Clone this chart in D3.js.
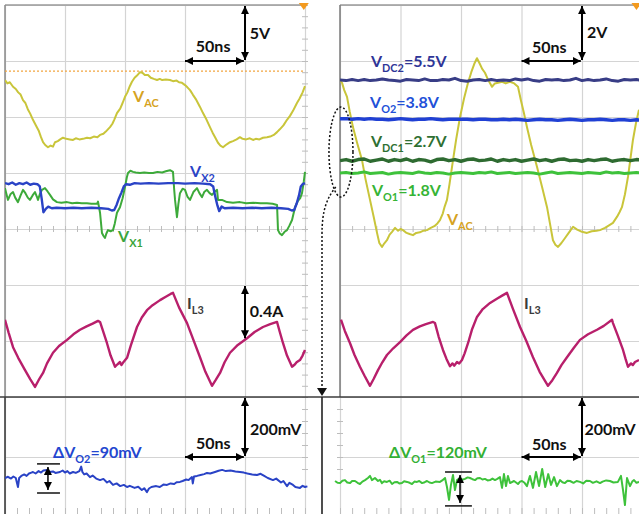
<!DOCTYPE html>
<html>
<head>
<meta charset="utf-8">
<script src="https://d3js.org/d3.v7.min.js"></script>
<style>
  body { margin: 0; background: #fff; }
  text { font-family: Lato, "Open Sans", sans-serif; font-weight: 700; }
  .grid line { stroke: #d4d4d4; stroke-width: 1.2; }
  .minor line { stroke: #bdbdbd; stroke-width: 1; }
  .grid .domain, .minor .domain { display: none; }
</style>
</head>
<body>
<svg id="chart" width="639" height="514"></svg>
<script>
// ---- data: time in ns, top panels in divisions, bottom panels in mV ----
var vacLeft = [[0,5.66],[2,5.60],[4,5.62],[6.7,5.54],[9,5.50],[11,5.44],[13,5.40],[15,5.30],[17,5.25],[19,5.14],[21,5.06],[23.3,4.95],[26,4.84],[28,4.76],[30,4.64],[31.7,4.55],[33.5,4.50],[35.8,4.46],[38,4.49],[40,4.47],[41.7,4.55],[44,4.57],[46,4.60],[48.3,4.63],[51,4.61],[54,4.60],[56.7,4.59],[59,4.62],[62,4.60],[65,4.61],[68.3,4.63],[71,4.62],[74,4.65],[77,4.64],[79.2,4.68],[82,4.70],[84,4.74],[87.5,4.82],[89.5,4.88],[91,4.95],[93.3,5.07],[96,5.15],[98,5.25],[100,5.36],[102,5.44],[104,5.55],[105.8,5.63],[108,5.70],[110,5.74],[112.5,5.80],[114.5,5.79],[116.5,5.75],[119.2,5.75],[121.5,5.70],[124,5.68],[126.7,5.66],[129,5.68],[131,5.66],[134,5.67],[137.5,5.66],[140,5.64],[143,5.65],[145,5.62],[147.5,5.61],[150,5.57],[152,5.53],[154.2,5.48],[156.5,5.40],[159,5.32],[162.5,5.18],[165,5.07],[168,4.95],[170.8,4.82],[173,4.72],[175.5,4.62],[177.5,4.54],[179.5,4.49],[181.7,4.46],[184,4.50],[186,4.53],[187.5,4.55],[190,4.57],[193,4.60],[195.8,4.64],[198,4.61],[201,4.60],[204,4.62],[206.7,4.59],[209,4.61],[212,4.60],[215,4.63],[218.3,4.64],[221,4.65],[224,4.68],[226.7,4.73],[229,4.78],[232,4.85],[235,4.95],[237.5,5.02],[240,5.11],[243.3,5.25],[245.5,5.33],[248,5.44],[250,5.55]];

var vx2 = [[0,3.82],[3,3.80],[6,3.83],[9,3.79],[12,3.82],[15,3.80],[18,3.83],[21,3.79],[24,3.81],[27,3.80],[29,3.76],[30.5,3.55],[32,3.30],[34,3.36],[36,3.40],[39,3.37],[43,3.38],[50,3.37],[57,3.38],[64,3.37],[72,3.38],[80,3.37],[86,3.36],[89,3.33],[91,3.34],[93,3.43],[95,3.55],[97,3.65],[99,3.76],[101,3.80],[104,3.79],[108,3.82],[113,3.81],[120,3.82],[128,3.81],[136,3.82],[144,3.82],[150,3.81],[158,3.82],[165,3.81],[171,3.80],[173.5,3.76],[175,3.60],[177,3.42],[178.5,3.32],[180.5,3.40],[183,3.37],[190,3.38],[198,3.37],[206,3.38],[214,3.37],[222,3.38],[230,3.37],[236,3.36],[239,3.33],[241,3.34],[243,3.45],[245,3.60],[246.5,3.76],[248,3.80],[250,3.82]];

var vx1 = [[0,3.73],[1.5,3.60],[2.5,3.52],[4.5,3.62],[6.7,3.66],[8.5,3.56],[10.8,3.48],[13,3.60],[15,3.70],[17,3.64],[19,3.56],[20.8,3.52],[23,3.60],[25,3.66],[26.5,3.58],[27.5,3.52],[29,3.62],[30.8,3.70],[33.3,3.73],[35.5,3.67],[37.5,3.61],[40,3.53],[43.3,3.48],[47,3.47],[51.7,3.48],[56,3.46],[60,3.47],[64,3.46],[68.3,3.46],[72,3.45],[76.7,3.45],[77.5,3.49],[79.2,3.29],[80.8,2.93],[82,2.88],[83.3,2.84],[84.5,2.92],[85.8,2.98],[88,2.96],[90,2.98],[91.5,3.10],[93.3,3.29],[95.8,3.39],[98,3.55],[100,3.75],[101.5,3.92],[102.5,4.00],[104.5,4.04],[106.7,4.02],[109,4.01],[112.5,4.00],[116,4.01],[120,4.00],[123.3,4.00],[127,4.02],[131,4.01],[134,4.03],[137.5,4.05],[140,4.02],[141,3.70],[141.7,3.52],[143.3,3.21],[144.5,3.45],[145.8,3.64],[148,3.72],[150,3.70],[152,3.58],[154.2,3.52],[157,3.66],[160,3.73],[162,3.64],[164.2,3.57],[166,3.66],[168.3,3.70],[170.5,3.64],[172.5,3.61],[174.5,3.66],[176.7,3.70],[177.5,3.52],[180.8,3.52],[185,3.48],[190,3.47],[195.8,3.48],[201,3.46],[207,3.47],[213,3.46],[218.3,3.46],[223,3.45],[226.7,3.43],[227.5,2.98],[229,2.92],[230.8,2.89],[233,2.95],[235,2.98],[237,3.06],[239.2,3.16],[241.7,3.39],[244,3.50],[246,3.55],[247.5,3.64],[249,3.85],[250,4.02]];

var il3Left = [[0,1.38],[3,1.15],[6.7,0.89],[11,0.70],[16.7,0.48],[21,0.32],[25,0.18],[28,0.30],[31.7,0.43],[35,0.60],[40,0.79],[45,0.91],[51.7,1.02],[57,1.12],[62.5,1.20],[68,1.26],[73,1.31],[77.5,1.36],[79.2,1.34],[82,1.16],[85,0.96],[88,0.74],[91.7,0.54],[93.5,0.58],[95.8,0.625],[97,0.57],[98.3,0.61],[101.7,0.70],[105,0.93],[110,1.25],[114,1.42],[118.3,1.55],[123,1.64],[129.2,1.73],[134,1.79],[138,1.84],[140,1.86],[145,1.60],[151.7,1.32],[157,1.02],[162.5,0.71],[167,0.45],[172.5,0.20],[175.5,0.30],[179.2,0.43],[183,0.62],[187.5,0.79],[194,0.93],[201.7,1.05],[208,1.16],[215,1.25],[221,1.30],[226.7,1.34],[229,1.16],[231.7,0.96],[235,0.74],[239.2,0.54],[241.5,0.58],[243,0.62],[245.8,0.66],[248,0.74],[250,0.84]];

var vacRight = [[0,5.66],[1.7,5.61],[3.5,5.48],[5.8,5.36],[8,5.10],[10.7,4.82],[14,4.55],[18.2,4.23],[21,3.90],[24.8,3.52],[28,3.20],[30.6,2.93],[32.5,2.75],[34.7,2.68],[36.5,2.74],[38.8,2.80],[41,2.90],[43,2.95],[45.5,3.02],[48,2.97],[50,3.00],[52.1,2.98],[55,2.93],[57.5,2.91],[60.3,2.89],[63,2.93],[66,2.94],[69,2.97],[71.9,2.98],[75,3.02],[78,3.05],[80.5,3.10],[82.6,3.16],[85,3.28],[86.5,3.40],[88.4,3.52],[90.5,3.80],[93.4,4.23],[96,4.60],[99.2,5.00],[102.5,5.33],[105.8,5.61],[108.5,5.80],[111,5.95],[113.2,6.05],[115.5,5.95],[117.5,5.86],[119.8,5.79],[122.5,5.66],[125.6,5.54],[128,5.60],[130.6,5.61],[134,5.63],[137,5.60],[140.5,5.63],[144,5.60],[147.1,5.54],[149.5,5.30],[152,5.07],[154.5,4.82],[158,4.50],[162.8,4.11],[167,3.75],[171.1,3.39],[173.5,3.10],[176,2.80],[178,2.72],[180.2,2.68],[183,2.75],[186,2.84],[189,2.93],[192.6,3.04],[196,2.99],[200,2.95],[204.1,2.93],[208,2.96],[212,2.97],[214.9,2.98],[219,3.02],[222,3.06],[225.6,3.11],[229,3.22],[231,3.30],[233,3.39],[235.5,3.62],[238,3.93],[240,4.25],[242.1,4.59],[244.5,4.88],[247.1,5.13]];

var il3Right = [[0.8,1.38],[4,1.18],[8.3,0.96],[12,0.75],[16.5,0.54],[20.5,0.37],[24.8,0.20],[28,0.33],[31.4,0.48],[35,0.62],[38.8,0.75],[44,0.87],[49.6,0.98],[55,1.10],[60.3,1.20],[66,1.26],[71,1.30],[76.9,1.34],[78.5,1.32],[81.5,1.08],[85.1,0.84],[88,0.68],[90.9,0.55],[93,0.60],[94.5,0.56],[96.7,0.625],[98.5,0.60],[100.8,0.66],[103,0.78],[105.8,0.96],[109,1.20],[113.2,1.43],[118,1.57],[124,1.68],[130,1.76],[134,1.81],[138,1.86],[143,1.57],[148.8,1.25],[154,1.00],[159.5,0.71],[165,0.45],[171.9,0.20],[175.5,0.30],[179.3,0.43],[183,0.57],[187.6,0.71],[193,0.87],[198.3,1.02],[205,1.12],[212.4,1.20],[218,1.27],[224.8,1.38],[225.6,1.32],[229.5,1.10],[233.9,0.84],[236,0.68],[238,0.54],[240.5,0.60],[242,0.57],[243.8,0.625],[247.1,0.66]];

// DC levels, one sample every 5 ns
var dcStep = 5;
var vdc2 = [5.66,5.65,5.67,5.65,5.67,5.65,5.66,5.68,5.66,5.65,5.64,5.67,5.66,5.65,5.68,5.65,5.65,5.67,5.66,5.69,5.65,5.64,5.66,5.67,5.65,5.67,5.65,5.66,5.65,5.68,5.66,5.68,5.65,5.64,5.67,5.66,5.67,5.65,5.66,5.69,5.65,5.67,5.65,5.66,5.68,5.65,5.64,5.67,5.66,5.67,5.65];
var vo2 = [4.97,4.97,4.96,4.97,4.96,4.97,4.96,4.96,4.95,4.96,4.97,4.96,4.95,4.96,4.96,4.97,4.96,4.95,4.96,4.96,4.96,4.96,4.95,4.96,4.96,4.95,4.95,4.96,4.95,4.96,4.95,4.94,4.95,4.96,4.95,4.95,4.94,4.95,4.96,4.95,4.94,4.95,4.95,4.96,4.95,4.94,4.95,4.95,4.94,4.95,4.94];
var vdc1 = [4.22,4.24,4.21,4.24,4.25,4.21,4.23,4.25,4.21,4.24,4.22,4.25,4.21,4.24,4.23,4.20,4.24,4.25,4.22,4.24,4.21,4.24,4.25,4.22,4.23,4.25,4.21,4.24,4.22,4.24,4.21,4.23,4.25,4.22,4.24,4.21,4.24,4.25,4.22,4.23,4.21,4.24,4.22,4.24,4.25,4.21,4.23,4.24,4.22,4.24,4.23];
var vo1 = [4.00,4.01,3.99,4.00,4.02,3.99,4.00,4.01,3.98,4.00,4.01,4.00,3.99,4.02,4.00,3.99,4.01,4.00,3.98,4.00,4.01,4.00,3.99,4.01,4.00,4.02,3.99,4.00,4.01,3.99,4.00,4.01,4.00,3.98,4.00,4.02,3.99,4.00,4.01,4.00,3.99,4.01,4.00,3.99,4.02,4.00,4.01,3.99,4.00,4.01,4.00];

// ripple, mV
var dvo2 = [[0,-70],[2.5,-66],[5,-72],[7,-65],[9,-70],[10.8,-100],[11.8,-70],[14,-62],[16,-58],[18,-63],[20,-55],[22,-52],[23.3,-50],[25.5,-55],[28,-47],[30,-52],[32,-45],[35,-43],[37,-50],[40,-48],[42,-53],[45.8,-50],[48,-45],[50,-52],[52,-47],[54,-55],[56.7,-50],[59,-53],[62,-47],[63.5,-32],[64.5,-50],[66,-58],[68,-55],[70.8,-67],[73,-62],[76,-72],[79.2,-77],[82,-73],[85,-85],[87,-80],[90,-93],[93,-88],[96,-97],[99,-93],[101.7,-100],[104,-96],[108,-103],[111,-99],[114,-110],[116,-104],[118.3,-117],[120,-105],[122,-100],[126,-97],[129,-100],[132,-92],[135,-93],[138,-88],[141,-90],[143,-84],[145.8,-83],[148,-80],[151,-75],[153,-77],[155.8,-67],[156.5,-88],[157.5,-65],[160,-63],[163,-60],[166,-57],[168.3,-53],[171,-55],[175,-50],[178,-46],[181,-43],[184,-47],[188,-45],[192,-48],[195.8,-50],[199,-52],[202,-55],[206,-58],[210,-60],[213,-56],[216,-63],[219,-70],[223.3,-77],[226,-72],[230,-85],[232,-80],[235,-97],[237,-86],[240,-93],[242,-100],[245.8,-103],[248,-96],[250,-100],[252,-98]];

var dvo1 = [[-4.1,-80],[-2,-86],[0,-87],[2,-79],[4.1,-77],[6,-85],[8.3,-87],[10,-80],[12.4,-80],[14.5,-86],[16.5,-90],[18.5,-82],[20.7,-77],[23.1,-70],[24.8,-63],[26.4,-77],[28.9,-70],[31.4,-80],[33,-76],[34.7,-87],[36.5,-81],[38.8,-83],[41,-79],[43,-90],[45,-84],[47.1,-83],[49,-88],[51.2,-87],[53,-81],[55.4,-83],[57.5,-86],[59.5,-90],[61.5,-82],[63.6,-83],[65.5,-80],[67.8,-87],[70,-84],[71.9,-80],[74,-85],[76,-87],[79,-82],[82.6,-83],[84.5,-78],[86.8,-70],[88.4,-100],[90.1,-143],[91.7,-93],[93.4,-60],[95,-110],[96.7,-77],[99.2,-70],[101,-76],[103.3,-73],[105.5,-68],[107.4,-70],[109.5,-74],[111.6,-77],[113.5,-71],[115.7,-70],[117.7,-75],[119.8,-73],[122,-78],[124,-77],[126,-72],[128.1,-77],[130,-73],[132.2,-67],[133.9,-103],[135.5,-57],[137.2,-97],[138.8,-63],[140.5,-87],[143.8,-80],[145.5,-85],[147.1,-90],[148.8,-82],[150.4,-80],[152.5,-86],[154.5,-97],[157,-63],[159.5,-103],[162,-50],[164.5,-97],[167.1,-40],[169.6,-100],[172.1,-57],[174.4,-93],[176.9,-67],[179.3,-97],[181.8,-77],[183.8,-84],[185.9,-87],[188,-79],[190.1,-80],[193,-86],[195.5,-80],[198.3,-83],[201,-88],[203.5,-79],[206.6,-80],[209,-86],[212,-81],[214.9,-87],[217,-82],[220,-78],[223.1,-80],[226,-85],[229.7,-83],[232.2,-63],[233.9,-110],[235.5,-160],[237.2,-70],[239.7,-97],[241.5,-82],[243,-77],[245,-86],[247.1,-83],[249,-80]];

var timeTicks = [0, 50, 100, 150, 200, 250];
var divTicks = [0, 1, 2, 3, 4, 5, 6, 7];

// ---- scales ----
var svg = d3.select("#chart");
var xL = d3.scaleLinear().domain([0, 250]).range([5, 305]);
var xR = d3.scaleLinear().domain([0, 250]).range([340, 642.5]);
var yT = d3.scaleLinear().domain([0, 7]).range([397, 5]);
var yB = d3.scaleLinear().domain([-200, 200]).range([517, 397]);

var defs = svg.append("defs");
function clip(id, x0, y0, x1, y1) {
  defs.append("clipPath").attr("id", id).append("rect")
    .attr("x", x0).attr("y", y0).attr("width", x1 - x0).attr("height", y1 - y0);
}
clip("cTL", 5, 5, 312, 397);
clip("cTR", 340, 5, 639, 397);
clip("cBL", 5, 397, 321, 514);
clip("cBR", 323, 397, 639, 514);

defs.append("marker").attr("id", "ah")
  .attr("viewBox", "0 0 10 10").attr("refX", 10).attr("refY", 5)
  .attr("markerWidth", 8).attr("markerHeight", 8).attr("markerUnits", "userSpaceOnUse")
  .attr("orient", "auto-start-reverse")
  .append("path").attr("d", "M0,0L10,5L0,10z").attr("fill", "#000");

// ---- grids ----
function grid(x, y, tv, dv, top, bottom, left, right) {
  svg.append("g").attr("class", "grid")
    .attr("transform", "translate(0," + bottom + ")")
    .call(d3.axisBottom(x).tickValues(tv).tickSize(-(bottom - top)).tickFormat(""));
  svg.append("g").attr("class", "grid")
    .attr("transform", "translate(" + left + ",0)")
    .call(d3.axisLeft(y).tickValues(dv).tickSize(-(right - left)).tickFormat(""));
}
grid(xL, yT, timeTicks, divTicks, 5, 397, 5, 305);
grid(xR, yT, [0, 50, 100, 150, 200], divTicks, 5, 397, 340, 639);
grid(xL, yB, timeTicks, [0], 397, 514, 5, 305);
grid(xR, yB, [0, 50, 100, 150, 200], [0], 397, 514, 341, 639);

// minor ticks on the centre axes
var tMinor = d3.range(0, 251, 10);
function hTicks(x, yPos, vals) {
  svg.append("g").attr("class", "minor").attr("transform", "translate(0," + (yPos - 3) + ")")
    .call(d3.axisBottom(x).tickValues(vals).tickSize(6).tickFormat(""));
}
function vTicks(y, xPos, vals) {
  svg.append("g").attr("class", "minor").attr("transform", "translate(" + (xPos + 3) + ",0)")
    .call(d3.axisLeft(y).tickValues(vals).tickSize(6).tickFormat(""));
}
hTicks(xL, yT(3), tMinor);
hTicks(xR, yT(3), d3.range(0, 250, 10));
vTicks(yT, xL(250), d3.range(0, 7.01, 0.2));
hTicks(xL, 511, tMinor);
hTicks(xR, 511, d3.range(0, 250, 10));
vTicks(yB, xL(250), d3.range(-40, 200, 40));
vTicks(yB, xR(0), d3.range(-40, 200, 40));

// borders
function rule(x1, y1, x2, y2, c, w) {
  svg.append("line").attr("x1", x1).attr("y1", y1).attr("x2", x2).attr("y2", y2)
    .attr("stroke", c).attr("stroke-width", w);
}
rule(xL(0), yT(7), xL(250), yT(7), "#9a9a9a", 1.5);
rule(xL(0), yT(7), xL(0), yT(0), "#8a8a8a", 1.5);
rule(xR(0), yT(7), 639, yT(7), "#9a9a9a", 1.5);
rule(xR(0), yT(7), xR(0), yT(0), "#7a7a7a", 1.5);
rule(0, 397, 639, 397, "#3c3c3c", 1.6);
rule(xL(0), 397, xL(0), 514, "#3c3c3c", 1.6);
rule(322, 397, 322, 514, "#222", 1.6);

// trigger markers and trigger level
function trig(px) {
  svg.append("path").attr("d", "M" + (px - 5) + ",3L" + (px + 5) + ",3L" + px + ",10z").attr("fill", "#f39a1e");
}
trig(xL(249));
trig(xR(245));
svg.append("line").attr("x1", xL(0)).attr("x2", xL(250)).attr("y1", yT(5.82)).attr("y2", yT(5.82))
  .attr("stroke", "#f2a540").attr("stroke-width", 1.4).attr("stroke-dasharray", "2,2");

// ---- traces ----
function trace(data, x, y, color, w, clipId) {
  svg.append("path").datum(data)
    .attr("clip-path", "url(#" + clipId + ")")
    .attr("fill", "none").attr("stroke", color).attr("stroke-width", w)
    .attr("stroke-linejoin", "round")
    .attr("d", d3.line().x(function (d) { return x(d[0]); }).y(function (d) { return y(d[1]); }));
}
function dcTrace(vals, color, w) {
  trace(vals.map(function (v, i) { return [i * dcStep, v]; }), xR, yT, color, w, "cTR");
}

trace(vacLeft, xL, yT, "#c9c53a", 2, "cTL");
trace(vx1, xL, yT, "#3daa3a", 2, "cTL");
trace(vx2, xL, yT, "#2a43c6", 2.4, "cTL");
trace(il3Left, xL, yT, "#b81f6b", 2.4, "cTL");

trace(vacRight, xR, yT, "#c9c53a", 2, "cTR");
dcTrace(vdc2, "#383d86", 3);
dcTrace(vo2, "#2040d4", 3.4);
dcTrace(vdc1, "#2e6b31", 3.4);
dcTrace(vo1, "#3ec23b", 3);
trace(il3Right, xR, yT, "#b81f6b", 2.4, "cTR");

trace(dvo2, xL, yB, "#2a43c6", 2, "cBL");
trace(dvo1, xR, yB, "#3ec23b", 2, "cBR");

// ---- annotations ----
function arrow(x1, y1, x2, y2, w) {
  svg.append("line").attr("x1", x1).attr("y1", y1).attr("x2", x2).attr("y2", y2)
    .attr("stroke", "#000").attr("stroke-width", w || 2)
    .attr("marker-start", "url(#ah)").attr("marker-end", "url(#ah)");
}
function label(px, py, parts, color, size) {
  var t = svg.append("text").attr("x", px).attr("y", py).attr("fill", color);
  var sub = false;
  parts.forEach(function (p) {
    var s = !!p[1];
    t.append("tspan").text(p[0])
      .style("font-size", (s ? size * 0.68 : size) + "px")
      .attr("dy", s === sub ? 0 : (s ? size * 0.3 : -size * 0.3));
    sub = s;
  });
}

// top left scale
arrow(xL(150), yT(6), xL(199), yT(6));
arrow(xL(200), yT(6.98), xL(200), yT(6.02));
label(xL(159), yT(6.16), [["50ns"]], "#111", 16);
label(xL(204), yT(6.39), [["5V"]], "#111", 16);
arrow(xL(200), yT(1.98), xL(200), yT(1.05));
label(xL(204), yT(1.43), [["0.4A"]], "#111", 16);

label(xL(106.7), yT(5.27), [["V"], ["AC", 1]], "#d6a31f", 16);
label(xL(154.2), yT(3.93), [["V"], ["X2", 1]], "#2a43c6", 16);
label(xL(94.2), yT(2.77), [["V"], ["X1", 1]], "#3aa53a", 16);
label(xL(151.7), yT(1.57), [["I"], ["L3", 1]], "#3a3a3a", 16);

// top right
arrow(xR(150), yT(6), xR(199), yT(6));
arrow(xR(200), yT(6.98), xR(200), yT(6.02));
label(xR(158.7), yT(6.14), [["50ns"]], "#111", 16);
label(xR(204.1), yT(6.41), [["2V"]], "#111", 16);
label(xR(25.6), yT(5.89), [["V"], ["DC2", 1], ["=5.5V"]], "#2e3597", 16);
label(xR(24.8), yT(5.16), [["V"], ["O2", 1], ["=3.8V"]], "#2250d8", 16);
label(xR(25.6), yT(4.46), [["V"], ["DC1", 1], ["=2.7V"]], "#2e7032", 16);
label(xR(26.4), yT(3.59), [["V"], ["O1", 1], ["=1.8V"]], "#36b435", 16);
label(xR(88.4), yT(3.07), [["V"], ["AC", 1]], "#d6a31f", 16);
label(xR(152.1), yT(1.57), [["I"], ["L3", 1]], "#3a3a3a", 16);

// zoom ellipse and pointer
svg.append("ellipse").attr("cx", xR(0.8)).attr("cy", yT(4.375)).attr("rx", 12).attr("ry", 45)
  .attr("fill", "none").attr("stroke", "#111").attr("stroke-width", 1.5).attr("stroke-dasharray", "2,2");
svg.append("path")
  .attr("d", "M" + xR(-3.5) + "," + yT(3.75) + "C" + 327 + "," + yT(3.55) + " 322," + yT(3.35) + " 322," + yT(2.9) + "L322," + 389)
  .attr("fill", "none").attr("stroke", "#111").attr("stroke-width", 1.5).attr("stroke-dasharray", "2,2");
svg.append("path").attr("d", "M317,388L327,388L322,396z").attr("fill", "#111");

// bottom left
arrow(xL(150), yB(0), xL(199), yB(0));
arrow(xL(200), yB(197), xL(200), yB(3));
label(xL(159.2), yB(27), [["50ns"]], "#111", 16);
label(xL(204.2), yB(73), [["200mV"]], "#111", 16);
rule(xL(26.7), yB(-23), xL(45.8), yB(-23), "#111", 1.5);
rule(xL(26.7), yB(-120), xL(45.8), yB(-120), "#111", 1.5);
arrow(xL(35.8), yB(-33), xL(35.8), yB(-110), 1.5);
label(xL(40), yB(-3), [["ΔV"], ["O2", 1], ["=90mV"]], "#2346cf", 16);

// bottom right
arrow(xR(150), yB(0), xR(199), yB(0));
arrow(xR(200), yB(197), xR(200), yB(3));
label(xR(158.7), yB(23), [["50ns"]], "#111", 16);
label(xR(202), yB(73), [["200mV"]], "#111", 16);
rule(xR(86.8), yB(-50), xR(109), yB(-50), "#111", 1.5);
rule(xR(86.8), yB(-163), xR(109), yB(-163), "#111", 1.5);
arrow(xR(99.2), yB(-60), xR(99.2), yB(-153), 1.5);
label(xR(40.5), yB(-3), [["ΔV"], ["O1", 1], ["=120mV"]], "#33b033", 16);
</script>
</body>
</html>
